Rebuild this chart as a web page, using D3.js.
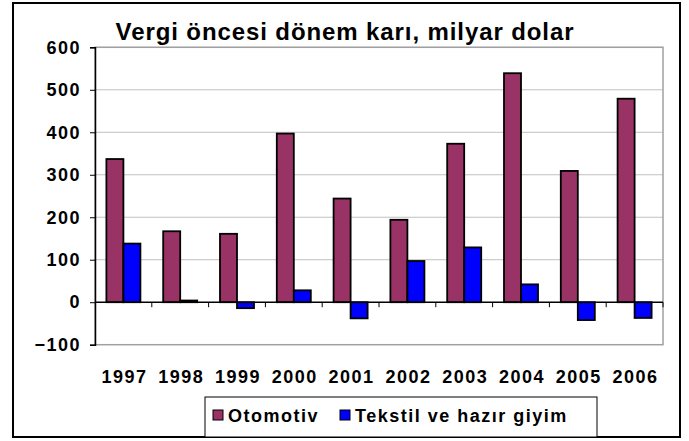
<!DOCTYPE html>
<html>
<head>
<meta charset="utf-8">
<script src="https://cdn.jsdelivr.net/npm/d3@7"></script>
<style>
  body { margin: 0; background: #fff; }
  svg text { font-family: Arial, "Liberation Sans", sans-serif; font-weight: bold; fill: #000; }
</style>
</head>
<body>
<div id="chart"></div>
<script>
// chart data
var years = ["1997", "1998", "1999", "2000", "2001", "2002", "2003", "2004", "2005", "2006"];
var seriesNames = ["Otomotiv", "Tekstil ve hazır giyim"];
var otomotiv = [337, 167, 161, 397, 244, 194, 373, 539, 309, 479];
var tekstil = [138, 4, -14, 28, -38, 97, 129, 42, -42, -37];
var yTicks = [-100, 0, 100, 200, 300, 400, 500, 600];
var colors = ["#993366", "#0000ff"];

var W = 689, H = 441;
var plot = { left: 95, right: 663, top: 47.3, bottom: 344.7 };

var svg = d3.select("#chart").append("svg")
  .attr("width", W).attr("height", H);

// outer frame
svg.append("rect")
  .attr("x", 13).attr("y", 3)
  .attr("width", 667).attr("height", 434)
  .attr("fill", "#fff").attr("stroke", "#000").attr("stroke-width", 2);

var y = d3.scaleLinear().domain([-100, 600]).range([plot.bottom, plot.top]);
var x0 = d3.scaleBand().domain(years).range([plot.left, plot.right]);
var x1 = d3.scaleBand().domain(seriesNames).range([0, x0.bandwidth()]).paddingOuter(0.67);

var data = years.map(function(yr, i) {
  return { year: yr, values: [
    { name: seriesNames[0], value: otomotiv[i] },
    { name: seriesNames[1], value: tekstil[i] }
  ]};
});

// gridlines
svg.append("g").selectAll("line")
  .data(yTicks.filter(function(d) { return d > 0; }))
  .enter().append("line")
  .attr("x1", plot.left).attr("x2", plot.right)
  .attr("y1", function(d) { return y(d); }).attr("y2", function(d) { return y(d); })
  .attr("stroke", "#c0c0c0").attr("stroke-width", 1);

// plot area border (gray)
svg.append("rect")
  .attr("x", plot.left).attr("y", plot.top)
  .attr("width", plot.right - plot.left).attr("height", plot.bottom - plot.top)
  .attr("fill", "none").attr("stroke", "#a0a0a0").attr("stroke-width", 1.5);

// bars
var groups = svg.append("g").selectAll("g")
  .data(data).enter().append("g")
  .attr("transform", function(d) { return "translate(" + x0(d.year) + ",0)"; });

groups.selectAll("rect")
  .data(function(d) { return d.values; })
  .enter().append("rect")
  .attr("x", function(d) { return x1(d.name); })
  .attr("width", x1.bandwidth())
  .attr("y", function(d) { return y(Math.max(0, d.value)); })
  .attr("height", function(d) { return Math.abs(y(d.value) - y(0)); })
  .attr("fill", function(d, i) { return colors[i]; })
  .attr("stroke", "#000").attr("stroke-width", 1.8);

// y axis
var yAxis = d3.axisLeft(y).tickValues(yTicks).tickSize(5).tickPadding(9).tickFormat(d3.format("d"));
var gy = svg.append("g").attr("transform", "translate(" + plot.left + ",0)").call(yAxis);
gy.select(".domain").attr("stroke", "#000").attr("stroke-width", 1.5);
gy.selectAll(".tick line").attr("stroke", "#000");
gy.selectAll("text").style("font-size", "18px").style("letter-spacing", "1.5px")
  .attr("font-family", null);

// zero line with category ticks
var bounds = years.map(function(d) { return x0(d) + x0.bandwidth(); });
svg.append("line")
  .attr("x1", plot.left).attr("x2", plot.right)
  .attr("y1", y(0)).attr("y2", y(0))
  .attr("stroke", "#000").attr("stroke-width", 1.5);
svg.append("g").selectAll("line")
  .data(bounds).enter().append("line")
  .attr("x1", function(d) { return d; }).attr("x2", function(d) { return d; })
  .attr("y1", y(0)).attr("y2", y(0) + 5)
  .attr("stroke", "#000").attr("stroke-width", 1);

// year labels
svg.append("g").selectAll("text")
  .data(years).enter().append("text")
  .attr("x", function(d) { return x0(d) + x0.bandwidth() / 2 + 1; })
  .attr("y", 383)
  .attr("text-anchor", "middle")
  .style("font-size", "18px").style("letter-spacing", "1.5px")
  .text(function(d) { return d; });

// title
svg.append("text")
  .attr("x", 345).attr("y", 39.5)
  .attr("text-anchor", "middle")
  .style("font-size", "24px").style("letter-spacing", "0.9px")
  .text("Vergi öncesi dönem karı, milyar dolar");

// legend
var legend = svg.append("g");
legend.append("rect")
  .attr("x", 205).attr("y", 397).attr("width", 392).attr("height", 40)
  .attr("fill", "#fff").attr("stroke", "#000").attr("stroke-width", 1);
var legendX = [213, 340];
var items = legend.selectAll("g.item")
  .data(seriesNames).enter().append("g")
  .attr("class", "item")
  .attr("transform", function(d, i) { return "translate(" + legendX[i] + ",410)"; });
items.append("rect")
  .attr("width", 10).attr("height", 10)
  .attr("fill", function(d, i) { return colors[i]; })
  .attr("stroke", "#000").attr("stroke-width", 1);
items.append("text")
  .attr("x", 15).attr("y", 11.5)
  .style("font-size", "18px").style("letter-spacing", "1.5px")
  .text(function(d) { return d; });
</script>
</body>
</html>
